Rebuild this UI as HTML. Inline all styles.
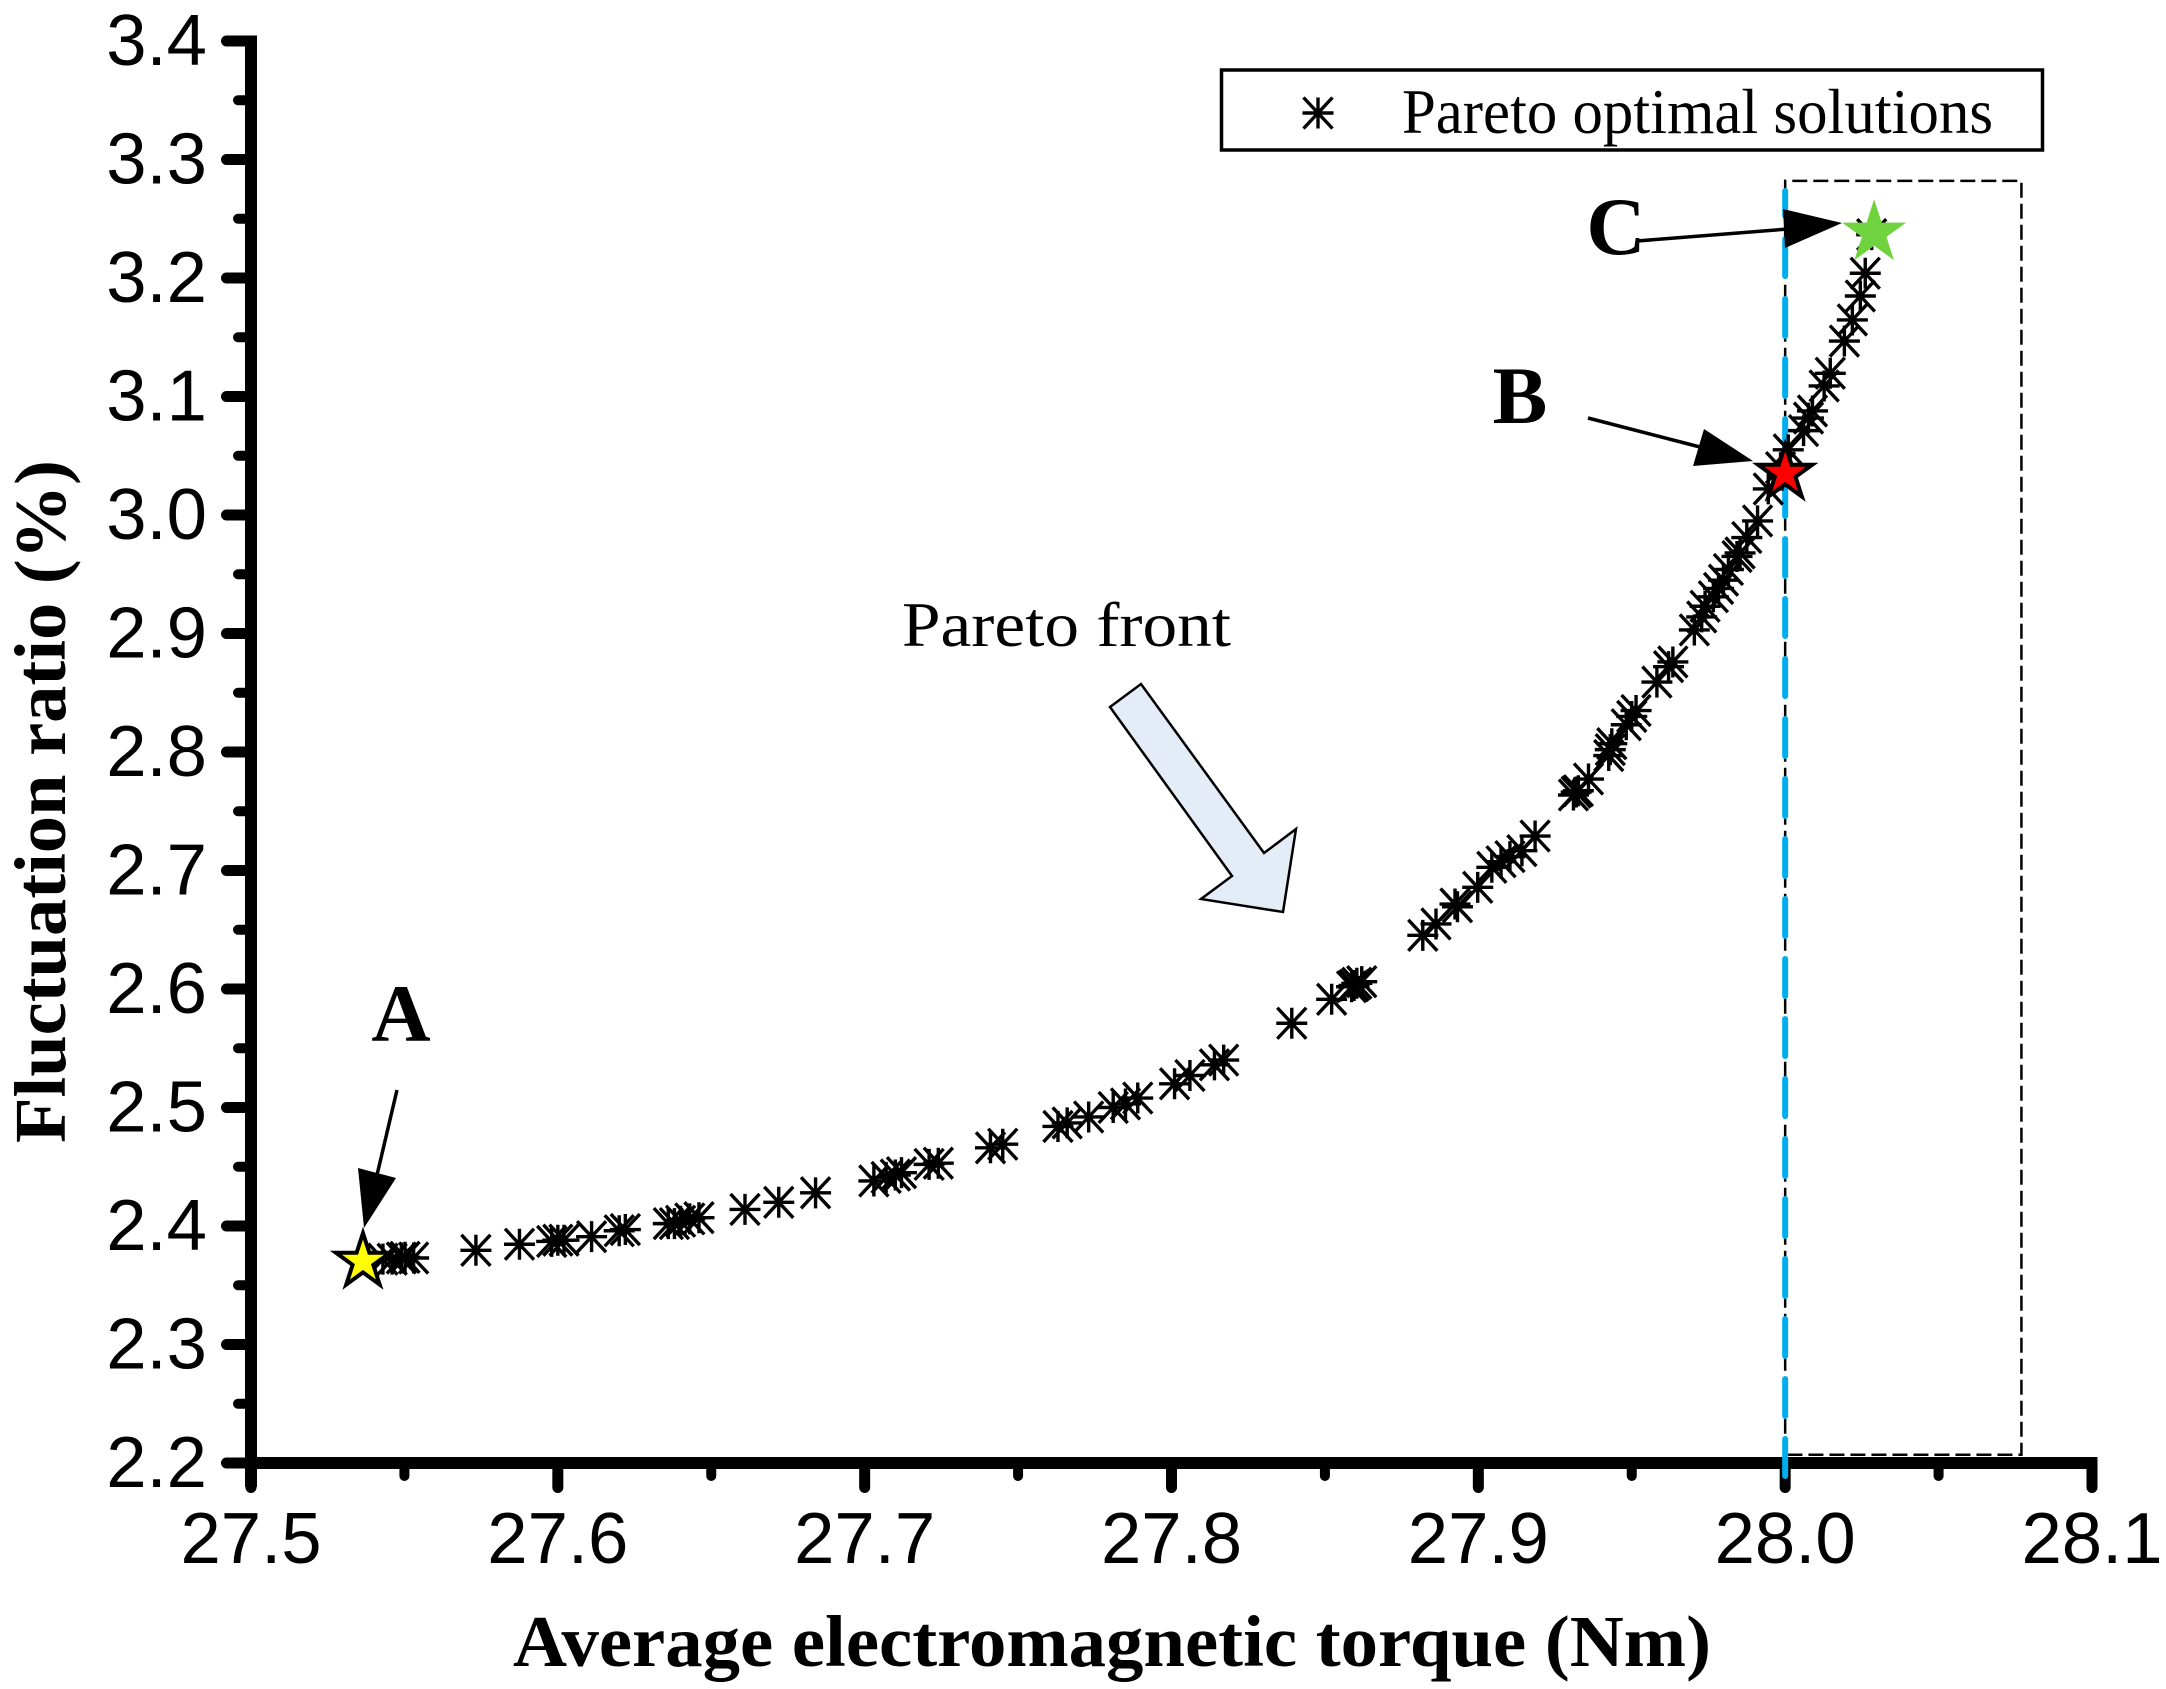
<!DOCTYPE html>
<html>
<head>
<meta charset="utf-8">
<style>
html,body{margin:0;padding:0;background:#fff;}
svg{display:block;}
.tick{font-family:"Liberation Sans",sans-serif;font-size:72.5px;fill:#000;}
.title{font-family:"Liberation Serif",serif;font-weight:bold;font-size:73px;fill:#000;}
.note{font-family:"Liberation Serif",serif;font-size:64px;fill:#000;}
.letter{font-family:"Liberation Serif",serif;font-weight:bold;font-size:82px;fill:#000;text-anchor:middle;}
</style>
</head>
<body>
<svg id="chart" xmlns="http://www.w3.org/2000/svg" width="2166" height="1689" viewBox="0 0 2166 1689">
<rect x="0" y="0" width="2166" height="1689" fill="#fff"/>
<g id="refs"></g>
<g id="axes"></g>
<g id="limit"></g>
<g id="points"></g>
<g id="stars"></g>
<g>
<line x1="397" y1="1090" x2="377" y2="1175" stroke="#000" stroke-width="3.500"/>
<polygon points="358,1168 396,1178 364,1228" fill="#000"/>
<line x1="1588" y1="418" x2="1700" y2="447" stroke="#000" stroke-width="3.500"/>
<polygon points="1704,429 1693,466 1753,461" fill="#000"/>
<line x1="1637" y1="241" x2="1788" y2="229" stroke="#000" stroke-width="3.500"/>
<polygon points="1783,209 1842,223 1785,248" fill="#000"/>
<polygon points="1141,684 1110,707 1232,876 1201,899 1283,912 1296,829 1264,853" fill="#e4ecf7" stroke="#000" stroke-width="2.500"/>
<text class="letter" x="401" y="1041">A</text>
<text class="letter" x="1520" y="423">B</text>
<text class="letter" x="1616" y="254">C</text>
<text class="note" x="902" y="646" textLength="329" lengthAdjust="spacingAndGlyphs">Pareto front</text>
</g>
<g>
<rect x="1221.500" y="70" width="821" height="80" fill="#fff" stroke="#000" stroke-width="3.500"/>
<g id="legend-marker"></g>
<text class="note" x="1402" y="133" font-size="60" textLength="591" lengthAdjust="spacingAndGlyphs">Pareto optimal solutions</text>
</g>
<text class="title" x="513" y="1666" textLength="1198" lengthAdjust="spacingAndGlyphs">Average electromagnetic torque (Nm)</text>
<text class="title" transform="translate(65,1143) rotate(-90)" textLength="683" lengthAdjust="spacingAndGlyphs">Fluctuation ratio (%)</text>
</svg>
<script>
var xTickValues = [27.5, 27.6, 27.7, 27.8, 27.9, 28.0, 28.1];
var yTickValues = [2.2, 2.3, 2.4, 2.5, 2.6, 2.7, 2.8, 2.9, 3.0, 3.1, 3.2, 3.3, 3.4];
var xTickLabels = ["27.5", "27.6", "27.7", "27.8", "27.9", "28.0", "28.1"];
var yTickLabels = ["2.2", "2.3", "2.4", "2.5", "2.6", "2.7", "2.8", "2.9", "3.0", "3.1", "3.2", "3.3", "3.4"];
var torque = [27.543,27.546,27.549,27.5502,27.553,27.5733,27.5875,27.598,27.600,27.602,27.611,27.620,27.622,27.636,27.638,27.640,27.643,27.646,27.661,27.672,27.684,27.703,27.707,27.710,27.712,27.721,27.724,27.741,27.745,27.763,27.766,27.773,27.781,27.785,27.789,27.801,27.806,27.814,27.817,27.8392,27.8522,27.8587,27.8595,27.8604,27.8620,27.8819,27.8862,27.8924,27.8932,27.8998,27.9044,27.9074,27.9103,27.9142,27.9185,27.9310,27.9319,27.9326,27.9359,27.9425,27.943,27.9435,27.9482,27.950,27.9514,27.9582,27.9620,27.9634,27.9704,27.9728,27.9739,27.9766,27.9783,27.9799,27.9815,27.9843,27.9853,27.9875,27.991,27.9945,27.9985,28.001,28.006,28.0076,28.0089,28.0127,28.0147,28.0193,28.0219,28.0245,28.0261,28.0282];
var fluctuation = [2.372,2.372,2.373,2.3736,2.373,2.3795,2.3846,2.387,2.388,2.388,2.391,2.396,2.397,2.402,2.402,2.404,2.406,2.407,2.414,2.420,2.428,2.438,2.441,2.443,2.445,2.452,2.453,2.466,2.469,2.484,2.487,2.492,2.500,2.503,2.508,2.520,2.527,2.536,2.540,2.5711,2.5913,2.6019,2.603,2.6048,2.6062,2.6453,2.6549,2.6717,2.6694,2.6858,2.7027,2.7074,2.7117,2.7167,2.7291,2.7637,2.7662,2.7673,2.7772,2.797,2.802,2.807,2.823,2.830,2.835,2.859,2.872,2.876,2.903,2.914,2.923,2.931,2.938,2.945,2.954,2.965,2.968,2.981,2.995,3.022,3.040,3.055,3.0712,3.0818,3.0878,3.1089,3.1196,3.1468,3.1646,3.1848,3.204,3.2366];
var starNames = ["star-a", "star-b", "star-c"];
var starTorque = [27.5365, 28.000, 28.029];
var starFluctuation = [2.370, 3.035, 3.238];
var starFills = ["#ffff00", "#ff0000", "#6fd23f"];
var starOutlines = ["#000", "#000", "none"];
var boxTorque = [28.000, 28.077];
var boxFluctuation = [2.207, 3.282];

var NS = "http://www.w3.org/2000/svg";
var xLeft = 251, xRight = 2092, yBottom = 1463, yTop = 41;
function sx(v){ return xLeft + (v - 27.5) / 0.6 * (xRight - xLeft); }
function sy(v){ return yBottom - (v - 2.2) / 1.2 * (yBottom - yTop); }
function make(tag, parent, attrs){
  var el = document.createElementNS(NS, tag);
  for (var k in attrs) el.setAttribute(k, attrs[k]);
  parent.appendChild(el);
  return el;
}
var axes = document.getElementById("axes");
var refs = document.getElementById("refs");
var limit = document.getElementById("limit");
var pts = document.getElementById("points");
var stars = document.getElementById("stars");

// dashed reference box
var boxPath = make("path", refs, {d:"M"+sx(boxTorque[0])+" "+sy(boxFluctuation[0])+"L"+sx(boxTorque[0])+" "+sy(boxFluctuation[1])+"L"+sx(boxTorque[1])+" "+sy(boxFluctuation[1])+"L"+sx(boxTorque[1])+" "+sy(boxFluctuation[0])+"L"+sx(boxTorque[0])+" "+sy(boxFluctuation[0]), fill:"none", stroke:"#000", "stroke-width":2.5, "stroke-dasharray":"15 6"});



// axis lines
var yAxisLine = make("line", axes, {x1:sx(27.5), y1:sy(3.4)-5.5, x2:sx(27.5), y2:sy(2.2)+24, stroke:"#000", "stroke-width":12});


var xAxisLine = make("line", axes, {x1:sx(27.5), y1:sy(2.2), x2:sx(28.1)+5.5, y2:sy(2.2), stroke:"#000", "stroke-width":12});



// ticks and labels
xTickValues.forEach(function(v, i){
  var t = make("line", axes, {x1:sx(v), y1:sy(2.2), x2:sx(v), y2:sy(2.2)+24.5, stroke:"#000", "stroke-width":11, "stroke-linecap":"round"});
  
  
  var l = make("text", axes, {x:sx(v), y:sy(2.2)+100, "class":"tick", "text-anchor":"middle"});
  l.textContent = xTickLabels[i];
  
  
  if (i < xTickValues.length - 1) {
    var mv = (v + xTickValues[i+1]) / 2;
    var m = make("line", axes, {x1:sx(mv), y1:sy(2.2), x2:sx(mv), y2:sy(2.2)+13, stroke:"#000", "stroke-width":10, "stroke-linecap":"round"});
    
    
  }
});
yTickValues.forEach(function(v, i){
  var t = make("line", axes, {x1:sx(27.5), y1:sy(v), x2:sx(27.5)-24.5, y2:sy(v), stroke:"#000", "stroke-width":11, "stroke-linecap":"round"});
  
  
  var l = make("text", axes, {x:sx(27.5)-44, y:sy(v)+24, "class":"tick", "text-anchor":"end"});
  l.textContent = yTickLabels[i];
  
  
  if (i < yTickValues.length - 1) {
    var mv = (v + yTickValues[i+1]) / 2;
    var m = make("line", axes, {x1:sx(27.5), y1:sy(mv), x2:sx(27.5)-13, y2:sy(mv), stroke:"#000", "stroke-width":10, "stroke-linecap":"round"});
    
    
  }
});

// blue limit line, drawn over the axis
var blueLine = make("line", limit, {x1:sx(28.0), y1:sy(2.2)+13, x2:sx(28.0), y2:191, stroke:"#00aeef", "stroke-width":6, "stroke-dasharray":"37 23", "stroke-linecap":"round"});



function asteriskPath(cx, cy){
  var a = 15.5, b = 15.5;
  return "M"+(cx-a)+" "+cy+"L"+(cx+a)+" "+cy+
         "M"+cx+" "+(cy-b)+"L"+cx+" "+(cy+b)+
         "M"+(cx-a+1)+" "+(cy-b)+"L"+(cx+a-1)+" "+(cy+b)+
         "M"+(cx-a+1)+" "+(cy+b)+"L"+(cx+a-1)+" "+(cy-b);
}
torque.forEach(function(v, i){
  var p = make("path", pts, {d:asteriskPath(sx(v), sy(fluctuation[i])), fill:"none", stroke:"#000", "stroke-width":3.4});
  
  
});
var legendMarker = make("path", document.getElementById("legend-marker"), {d:asteriskPath(1318, 113), fill:"none", stroke:"#000", "stroke-width":3.4});



function starPoints(cx, cy, R){
  var r = R * 0.382, out = [];
  for (var k = 0; k < 10; k++) {
    var rad = k % 2 ? r : R;
    var ang = -Math.PI / 2 + k * Math.PI / 5;
    out.push((cx + rad * Math.cos(ang)).toFixed(1) + "," + (cy + rad * Math.sin(ang)).toFixed(1));
  }
  return out.join(" ");
}
starTorque.forEach(function(v, i){
  var s = make("polygon", stars, {points:starPoints(sx(v), sy(starFluctuation[i]), i === 2 ? 33.7 : 28.5), fill:starFills[i], stroke:starOutlines[i], "stroke-width":4});
  
  
});
</script>
</body>
</html>
